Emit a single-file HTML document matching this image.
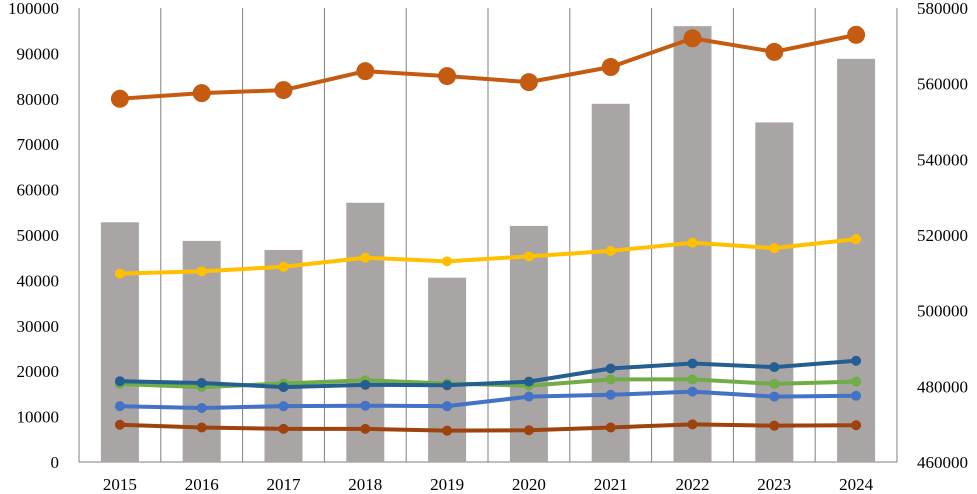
<!DOCTYPE html>
<html><head><meta charset="utf-8"><style>
body{margin:0;background:#fff;}
svg{display:block;font-family:"Liberation Serif",serif;font-size:17px;}
</style></head><body>
<svg id="chart" width="977" height="494"></svg>
<script>
const categories=["2015","2016","2017","2018","2019","2020","2021","2022","2023","2024"];
const barValues=[52800,48700,46700,57100,40600,52000,78900,96000,74800,88800];
const totalValues=[556000,557500,558300,563300,562000,560400,564400,572000,568400,572900];
const yellowValues=[41500,42000,43000,45000,44200,45300,46500,48300,47100,49100];
const navyValues=[17800,17400,16500,17000,16900,17700,20600,21700,20900,22300];
const greenValues=[17200,16500,17300,18000,17300,16800,18200,18200,17200,17700];
const blueValues=[12300,11900,12300,12400,12300,14400,14800,15500,14400,14600];
const brownValues=[8200,7600,7300,7300,6900,7000,7600,8300,8000,8100];
const leftTicks=[0,10000,20000,30000,40000,50000,60000,70000,80000,90000,100000];
const rightTicks=[460000,480000,500000,520000,540000,560000,580000];

const NS="http://www.w3.org/2000/svg";
const svg=document.getElementById('chart');
const X0=79,X1=897,Y0=462,Y1=8;
const step=(X1-X0)/categories.length;
const xC=i=>X0+step*(i+0.5);
const yL=v=>Y0-(v/100000)*(Y0-Y1);
const yR=v=>Y0-((v-460000)/120000)*(Y0-Y1);
function mk(t,a){const e=document.createElementNS(NS,t);for(const k in a)e.setAttribute(k,a[k]);svg.appendChild(e);return e;}

for(let i=0;i<=categories.length;i++){
  const l=mk('line',{x1:X0+step*i,x2:X0+step*i,y1:Y1,y2:Y0,stroke:'#7f7f7f','stroke-width':1});
  
  
}
const base=mk('line',{x1:X0,x2:X1,y1:Y0,y2:Y0,stroke:'#7f7f7f','stroke-width':1});



leftTicks.forEach(v=>{
  const t=mk('text',{x:59,y:yL(v)+6,'text-anchor':'end',fill:'#000'});
  t.textContent=v;
  
  
});
rightTicks.forEach(v=>{
  const t=mk('text',{x:917,y:yR(v)+6,'text-anchor':'start',fill:'#000'});
  t.textContent=v;
  
  
});
categories.forEach((c,i)=>{
  const t=mk('text',{x:xC(i),y:490,'text-anchor':'middle',fill:'#000'});
  t.textContent=c;
  
  
});
barValues.forEach((v,i)=>{
  const b=mk('rect',{x:xC(i)-19,y:yL(v),width:38,height:Y0-yL(v),fill:'#aaa5a5'});
  
  
});
function series(vals,yf,color,w,r,name){
  const p=mk('polyline',{points:vals.map((v,i)=>xC(i)+','+yf(v)).join(' '),fill:'none',stroke:color,'stroke-width':w});
  
  
  vals.forEach((v,i)=>{
    const c=mk('circle',{cx:xC(i),cy:yf(v),r:r,fill:color});
    
    
  });
}
series(brownValues,yL,'#9e420e',4,5,'brown-series');
series(blueValues,yL,'#4472c4',4,5,'blue-series');
series(greenValues,yL,'#70ad47',4,5,'green-series');
series(navyValues,yL,'#255e91',4,5,'navy-series');
series(yellowValues,yL,'#ffc000',4,5,'yellow-series');
series(totalValues,yR,'#c55a11',4,9,'total-series');
</script>
</body></html>
